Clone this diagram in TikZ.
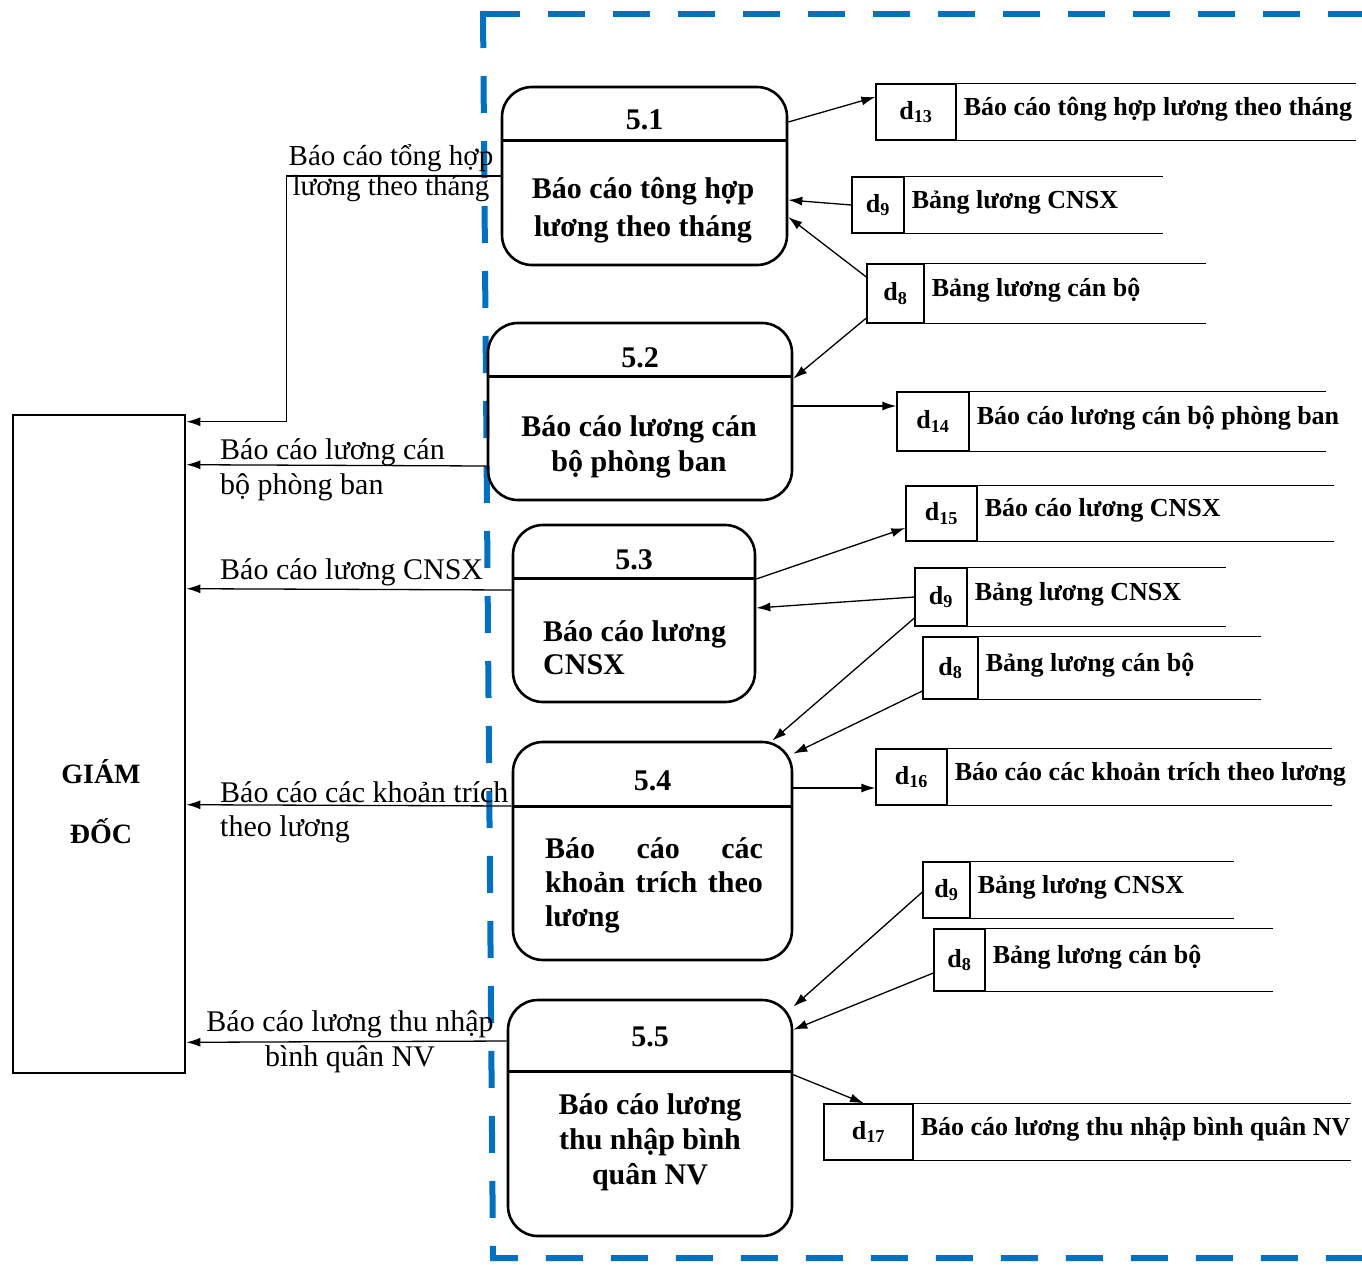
\documentclass[tikz,border=0pt]{standalone}
\usepackage{fontspec}
\setmainfont{Liberation Serif}
\usetikzlibrary{arrows.meta}
\definecolor{bndblue}{RGB}{0,112,192}

\tikzset{
  proc/.style={draw, line width=2.6pt, rounded corners=30pt, inner sep=0pt},
  cell/.style={draw, line width=1.3pt, inner sep=0pt, font=\fontsize{26}{30}\selectfont\bfseries},
  sline/.style={line width=1.3pt},
  flow/.style={line width=1.3pt, -{Latex[length=14pt,width=9pt]}},
  ptext/.style={font=\fontsize{30}{35}\selectfont\bfseries, inner sep=0pt},
  stext/.style={font=\fontsize{26}{30}\selectfont\bfseries, anchor=west, inner sep=0pt, xshift=7pt, yshift=3pt},
  ftext/.style={font=\fontsize{30}{35}\selectfont, inner sep=0pt},
}

\begin{document}
\begin{tikzpicture}[x=1pt,y=-1pt]
\useasboundingbox (0,0) rectangle (1362,1264);

% system boundary
\draw[bndblue, line width=6pt, dash pattern=on 37pt off 28pt] (483,14) -- (1362,14);
\draw[bndblue, line width=6pt, dash pattern=on 37pt off 28pt] (483,11) -- (493,1258) -- (1362,1258);

% external entity
\node[draw, line width=2.6pt, minimum width=172pt, minimum height=658pt] (gd) at (99,744) {};
\node[font=\fontsize{28}{60}\selectfont\bfseries, align=center] at (101,802) {GIÁM\\ĐỐC};

% processes
\node[proc, minimum width=285pt, minimum height=178pt] (p1) at (644.5,176) {};
\draw[line width=2.6pt] ([yshift=-55pt]p1.north west) -- ([yshift=-55pt]p1.north east);
\node[ptext] at ([yshift=-34pt]p1.north) {5.1};
\node[ptext, font=\fontsize{30}{38}\selectfont\bfseries, align=center] at (643,210) {Báo cáo tông hợp\\lương theo tháng};

\node[proc, minimum width=304pt, minimum height=177pt] (p2) at (640,411.5) {};
\draw[line width=2.6pt] ([yshift=-55pt]p2.north west) -- ([yshift=-55pt]p2.north east);
\node[ptext] at ([yshift=-36pt]p2.north) {5.2};
\node[ptext, align=center] at (639,447) {Báo cáo lương cán\\bộ phòng ban};

\node[proc, minimum width=242pt, minimum height=177pt] (p3) at (634,613.5) {};
\draw[line width=2.6pt] ([yshift=-55pt]p3.north west) -- ([yshift=-55pt]p3.north east);
\node[ptext] at ([yshift=-36pt]p3.north) {5.3};
\node[ptext, font=\fontsize{30}{33}\selectfont\bfseries, align=left, anchor=west] at (543,648) {Báo cáo lương\\CNSX};

\node[proc, minimum width=279pt, minimum height=218pt] (p4) at (652.5,851) {};
\draw[line width=2.6pt] ([yshift=-66pt]p4.north west) -- ([yshift=-66pt]p4.north east);
\node[ptext] at ([yshift=-40pt]p4.north) {5.4};
\node[ptext, font=\fontsize{30}{34}\selectfont\bfseries, align=left] at (654,885) {\makebox[218pt][s]{Báo cáo các}\\\makebox[218pt][s]{khoản trích theo}\\lương};

\node[proc, minimum width=284pt, minimum height=236pt] (p5) at (650,1118) {};
\draw[line width=2.6pt] ([yshift=-73pt]p5.north west) -- ([yshift=-73pt]p5.north east);
\node[ptext] at ([yshift=-38pt]p5.north) {5.5};
\node[ptext, align=center] at (650,1142) {Báo cáo lương\\thu nhập bình\\quân NV};

% data stores
\node[cell, minimum width=80pt, minimum height=56pt] (s13) at (916,112) {d\textsubscript{13}};
\draw[sline] (s13.north east) -- ++(399,0) (s13.south east) -- ++(399,0);
\node[stext] at (s13.east) {Báo cáo tông hợp lương theo tháng};

\node[cell, minimum width=52pt, minimum height=56pt] (s9a) at (878,205) {d\textsubscript{9}};
\draw[sline] (s9a.north east) -- ++(258,0) (s9a.south east) -- ++(258,0);
\node[stext] at (s9a.east) {Bảng lương CNSX};

\node[cell, minimum width=57pt, minimum height=59pt] (s8a) at (895.5,293.5) {d\textsubscript{8}};
\draw[sline] (s8a.north east) -- ++(281,0) (s8a.south east) -- ++(281,0);
\node[stext] at (s8a.east) {Bảng lương cán bộ};

\node[cell, minimum width=72pt, minimum height=59pt] (s14) at (933,421.5) {d\textsubscript{14}};
\draw[sline] (s14.north east) -- ++(356,0) (s14.south east) -- ++(356,0);
\node[stext] at (s14.east) {Báo cáo lương cán bộ phòng ban};

\node[cell, minimum width=71pt, minimum height=55pt] (s15) at (941.5,513.5) {d\textsubscript{15}};
\draw[sline] (s15.north east) -- ++(356,0) (s15.south east) -- ++(356,0);
\node[stext] at (s15.east) {Báo cáo lương CNSX};

\node[cell, minimum width=52pt, minimum height=58pt] (s9b) at (941,597) {d\textsubscript{9}};
\draw[sline] (s9b.north east) -- ++(258,0) (s9b.south east) -- ++(258,0);
\node[stext] at (s9b.east) {Bảng lương CNSX};

\node[cell, minimum width=55pt, minimum height=62pt] (s8b) at (950.5,668) {d\textsubscript{8}};
\draw[sline] (s8b.north east) -- ++(282,0) (s8b.south east) -- ++(282,0);
\node[stext] at (s8b.east) {Bảng lương cán bộ};

\node[cell, minimum width=71pt, minimum height=56pt] (s16) at (911.5,777) {d\textsubscript{16}};
\draw[sline] (s16.north east) -- ++(384,0) (s16.south east) -- ++(384,0);
\node[stext] at (s16.east) {Báo cáo các khoản trích theo lương};

\node[cell, minimum width=47pt, minimum height=56pt] (s9c) at (946.5,890) {d\textsubscript{9}};
\draw[sline] (s9c.north east) -- ++(263,0) (s9c.south east) -- ++(263,0);
\node[stext] at (s9c.east) {Bảng lương CNSX};

\node[cell, minimum width=51pt, minimum height=62pt] (s8c) at (959.5,960) {d\textsubscript{8}};
\draw[sline] (s8c.north east) -- ++(287,0) (s8c.south east) -- ++(287,0);
\node[stext] at (s8c.east) {Bảng lương cán bộ};

\node[cell, minimum width=89pt, minimum height=56pt] (s17) at (868.5,1132) {d\textsubscript{17}};
\draw[sline] (s17.north east) -- ++(437,0) (s17.south east) -- ++(437,0);
\node[stext] at (s17.east) {Báo cáo lương thu nhập bình quân NV};

% flows between processes and stores
\draw[flow] ([yshift=54pt]p1.east) -- ([yshift=15pt]s13.west);
\draw[flow] (s9a.west) -- ([yshift=-24pt]p1.east);
\draw[flow] ([yshift=16.5pt]s8a.west) -- ([yshift=-41pt]p1.east);
\draw[flow] ([yshift=-24.5pt]s8a.west) -- ([yshift=-57pt]p2.north east);
\draw[flow] ([yshift=5.5pt]p2.east) -- ([yshift=15.5pt]s14.west);
\draw[flow] ([yshift=34.5pt]p3.east) -- ([yshift=-14.5pt]s15.west);
\draw[flow] (s9b.west) -- ([yshift=5.5pt]p3.east);
\draw[flow] ([yshift=-21pt]s9b.west) -- ([xshift=-21pt]p4.north east);
\draw[flow] ([yshift=-23pt]s8b.west) -- ([yshift=-13pt]p4.north east);
\draw[flow] ([yshift=63pt]p4.east) -- ([yshift=-11pt]s16.west);
\draw[flow] ([yshift=-2pt]s9c.west) -- ([yshift=-8pt]p5.north east);
\draw[flow] ([yshift=-13pt]s8c.west) -- ([yshift=-31pt]p5.north east);
\draw[flow] ([yshift=-76pt]p5.north east) -- ([xshift=-4.5pt]s17.north);

% flows to the director
\draw[flow] (p1.west) -- ++(-214,0) |- ([yshift=-8pt]gd.north east);
\draw[flow] ([yshift=-54.5pt]p2.west) -- ([yshift=-51pt]gd.north east);
\draw[flow] ([yshift=23.5pt]p3.west) -- ([yshift=-175pt]gd.north east);
\draw[flow] ([yshift=45pt]p4.west) -- ([yshift=-391pt]gd.north east);
\draw[flow] ([yshift=77pt]p5.west) -- ([yshift=32pt]gd.south east);

\node[ftext, font=\fontsize{29}{30}\selectfont, align=center] at (391,173) {Báo cáo tổng hợp\\lương theo tháng};
\node[ftext, align=left, anchor=west] at (220,470) {Báo cáo lương cán\\bộ phòng ban};
\node[ftext, anchor=west] at (220,572) {Báo cáo lương CNSX};
\node[ftext, font=\fontsize{30}{34}\selectfont, align=left, anchor=west] at (220,812) {Báo cáo các khoản trích\\theo lương};
\node[ftext, align=center] at (350,1042) {Báo cáo lương thu nhập\\bình quân NV};
\end{tikzpicture}
\end{document}
